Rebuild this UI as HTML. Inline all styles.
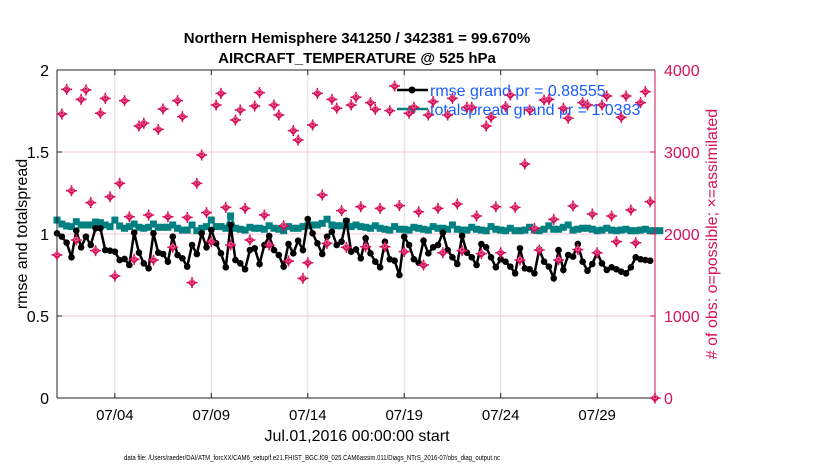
<!DOCTYPE html>
<html><head><meta charset="utf-8"><style>
html,body{margin:0;padding:0;background:#fff}
svg{display:block;font-family:"Liberation Sans",Arial,sans-serif}
</style></head><body>
<svg id="chart" width="830" height="470" viewBox="0 0 830 470">
<rect width="830" height="470" fill="#fff"/>
<g id="grid"></g>
<g id="series"></g>
<g id="axes"></g>
<text x="357" y="43" text-anchor="middle" font-size="15" font-weight="bold">Northern Hemisphere 341250 / 342381 = 99.670%</text>
<text x="357" y="63" text-anchor="middle" font-size="15" font-weight="bold">AIRCRAFT_TEMPERATURE @ 525 hPa</text>
<text transform="translate(27,234) rotate(-90)" text-anchor="middle" font-size="16">rmse and totalspread</text>
<text transform="translate(717,234) rotate(-90)" text-anchor="middle" font-size="16" fill="#d6105a"># of obs: o=possible; ×=assimilated</text>
<text x="357" y="441" text-anchor="middle" font-size="16">Jul.01,2016 00:00:00 start</text>
<text x="312" y="460" text-anchor="middle" font-size="7" textLength="376" lengthAdjust="spacingAndGlyphs">data file: /Users/raeder/DAI/ATM_forcXX/CAM6_setup/f.e21.FHIST_BGC.f09_025.CAM6assim.011/Diags_NTrS_2016-07/obs_diag_output.nc</text>
<g>
<line x1="397" y1="90" x2="428" y2="90" stroke="#000" stroke-width="2.5"/>
<circle cx="412" cy="90" r="3.5" fill="#000"/>
<text x="430" y="96" font-size="16" fill="#1a5cff">rmse grand pr = 0.88555</text>
<line x1="397" y1="109" x2="428" y2="109" stroke="#008080" stroke-width="2.5"/>
<rect x="408.5" y="105.5" width="7" height="7" fill="#008080"/>
<text x="430" y="115" font-size="16" fill="#1a5cff">totalspread grand pr = 1.0383</text>
</g>
<g id="obs"></g>
</svg>
<script>
const startDay = 1;
const stepDays = 0.25;
const xTickDays = [4, 9, 14, 19, 24, 29];
const xTickLabels = ["07/04", "07/09", "07/14", "07/19", "07/24", "07/29"];
const leftTicks = [0, 0.5, 1, 1.5, 2];
const leftTickLabels = ["0", "0.5", "1", "1.5", "2"];
const rightTicks = [0, 1000, 2000, 3000, 4000];
const rightTickLabels = ["0", "1000", "2000", "3000", "4000"];
const rmse = [
1.004,0.984,0.947,0.858,1.020,0.919,0.984,0.933,1.035,1.035,0.902,0.898,0.892,0.841,0.848,0.811,
1.008,0.886,0.821,0.791,1.004,0.886,0.878,0.831,0.984,0.872,0.852,0.801,0.933,0.878,1.004,0.919,
1.024,0.943,0.882,0.797,1.055,0.841,0.821,0.785,0.902,0.913,0.817,0.933,0.988,0.902,0.872,0.801,
0.939,0.882,0.959,0.902,1.091,1.004,0.943,0.878,0.984,1.014,0.933,0.953,1.081,0.892,
0.906,0.852,0.974,0.882,0.831,0.797,0.953,0.846,0.837,0.750,0.984,0.933,0.846,0.825,0.959,0.882,
0.919,0.933,1.008,0.902,0.858,0.817,0.988,0.886,0.858,0.811,0.939,0.919,0.858,0.797,
0.846,0.831,0.801,0.760,0.913,0.791,0.785,0.760,0.906,0.831,0.801,0.730,0.902,0.781,0.872,0.862,
0.939,0.831,0.776,0.817,0.886,0.821,0.781,0.797,0.785,0.770,0.760,0.797,0.858,0.846,0.841,0.837];
const spread = [
1.085,1.061,1.049,1.045,1.075,1.055,1.055,1.055,1.073,1.069,1.055,1.045,1.085,1.049,1.035,1.045,
1.061,1.041,1.035,1.041,1.061,1.041,1.041,1.041,1.055,1.035,1.024,1.024,1.055,1.020,1.035,1.045,
1.085,1.045,1.045,1.035,1.110,1.035,1.029,1.024,1.041,1.035,1.035,1.029,1.050,1.035,1.029,1.020,
1.045,1.035,1.035,1.045,1.050,1.055,1.055,1.065,1.090,1.055,1.050,1.050,1.075,1.045,
1.055,1.045,1.041,1.035,1.050,1.035,1.029,1.024,1.045,1.029,1.029,1.024,1.041,1.035,1.029,1.024,
1.045,1.035,1.035,1.029,1.055,1.029,1.024,1.024,1.041,1.029,1.024,1.020,1.045,1.029,1.024,1.020,
1.035,1.020,1.020,1.024,1.041,1.024,1.020,1.029,1.050,1.029,1.029,1.041,1.055,1.024,1.029,1.035,
1.035,1.029,1.020,1.024,1.035,1.024,1.020,1.024,1.029,1.020,1.020,1.024,1.029,1.020,1.020,1.020];
const assimilated = [
1744,3463,3764,2528,1927,3642,3756,2382,1797,3472,3654,2455,1488,2618,3626,2211,
1691,3317,3350,2232,1683,3276,3524,2211,1837,3626,3431,2203,1407,2618,2963,2260,
1907,3573,3715,2325,1866,3390,3512,2313,1927,3561,3724,2232,1866,3573,3451,2102,
1671,3260,3146,1459,1650,3329,3715,2476,1886,3642,3533,2285,1837,3573,
3667,2333,1845,3602,3520,2313,1845,3504,3805,2346,1785,3472,3545,2272,1622,3451,
3614,2313,1772,3451,3654,2366,1797,3545,3545,2220,1760,3317,3423,2333,
1772,3553,3695,2325,1683,2854,3512,2069,1805,3634,3642,2179,1683,3533,3411,2341,
1809,3602,3573,2244,1772,3573,3683,2220,1907,3423,3683,2293,1894,3602,3736,2394,0];
const possible = assimilated.slice();

const X0=57, X1=655, Y0=398, Y1=70;
const xScale = d => X0 + (d - 1) / 31 * (X1 - X0);
const yLeft = v => Y0 - v / 2 * (Y0 - Y1);
const yRight = v => Y0 - v / 4000 * (Y0 - Y1);
const NS="http://www.w3.org/2000/svg";
function mk(tag, attrs, parent){const e=document.createElementNS(NS,tag);for(const k in attrs)e.setAttribute(k,attrs[k]);parent.appendChild(e);return e;}
const grid=document.getElementById('grid'), series=document.getElementById('series'), axes=document.getElementById('axes'), obs=document.getElementById('obs');
const dayOf = i => startDay + i*stepDays;

xTickDays.forEach((d,i)=>{
  const x=xScale(d);
  const g=mk('line',{x1:x,y1:Y1,x2:x,y2:Y0,stroke:'#dcdcdc','stroke-width':1},grid);
  
  
  const t1=mk('line',{x1:x,y1:Y0,x2:x,y2:Y0-5,stroke:'#222','stroke-width':1},axes);
  
  
  const t2=mk('line',{x1:x,y1:Y1,x2:x,y2:Y1+5,stroke:'#222','stroke-width':1},axes);
  
  
  const lb=mk('text',{x:x,y:420,'text-anchor':'middle','font-size':15},axes);
  lb.textContent=xTickLabels[i];
  
  
});
leftTicks.forEach((v,i)=>{
  const y=yLeft(v);
  if(v>0&&v<2){
    const g=mk('line',{x1:X0,y1:y,x2:X1,y2:y,stroke:'#f6c8d8','stroke-width':1},grid);
    
    
  }
  const t=mk('line',{x1:X0,y1:y,x2:X0+5,y2:y,stroke:'#222'},axes);
  
  
  const lb=mk('text',{x:49,y:y+6,'text-anchor':'end','font-size':16},axes);
  lb.textContent=leftTickLabels[i];
  
  
});
rightTicks.forEach((v,i)=>{
  const y=yRight(v);
  const t=mk('line',{x1:X1-5,y1:y,x2:X1,y2:y,stroke:'#d6105a'},axes);
  
  
  const lb=mk('text',{x:664,y:y+6,'font-size':16,fill:'#d6105a'},axes);
  lb.textContent=rightTickLabels[i];
  
  
});
const fr1=mk('line',{x1:X0,y1:Y1,x2:X1,y2:Y1,stroke:'#222'},axes);


const fr2=mk('line',{x1:X0,y1:Y0,x2:X1,y2:Y0,stroke:'#222'},axes);


const fr3=mk('line',{x1:X0,y1:Y1,x2:X0,y2:Y0,stroke:'#222'},axes);


const fr4=mk('line',{x1:X1,y1:Y1,x2:X1,y2:Y0,stroke:'#d6105a'},axes);



// spread
const sp=mk('polyline',{points:spread.map((v,i)=>xScale(dayOf(i))+','+yLeft(v)).join(' '),fill:'none',stroke:'#008080','stroke-width':2.5},series);


spread.forEach((v,i)=>{
  const r=mk('rect',{x:xScale(dayOf(i))-3.5,y:yLeft(v)-3.5,width:7,height:7,fill:'#008080'},series);
  
  
});
// rmse
const rl=mk('polyline',{points:rmse.map((v,i)=>xScale(dayOf(i))+','+yLeft(v)).join(' '),fill:'none',stroke:'#000','stroke-width':2.5},series);


rmse.forEach((v,i)=>{
  const c=mk('circle',{cx:xScale(dayOf(i)),cy:yLeft(v),r:3.3,fill:'#000'},series);
  
  
});
// obs markers on top
assimilated.forEach((v,i)=>{
  const x=xScale(dayOf(i)), y=yRight(v);
  const g=mk('g',{},obs);
  
  
  mk('path',{d:`M${x-4.5} ${y}L${x} ${y-4.5}L${x+4.5} ${y}L${x} ${y+4.5}Z`,fill:'#d6105a'},g);
  mk('path',{d:`M${x-5.5} ${y}H${x+5.5}M${x} ${y-5.5}V${y+5.5}`,stroke:'#d6105a','stroke-width':1.5},g);
});
possible.forEach((v,i)=>{
  const c=mk('circle',{cx:xScale(dayOf(i)),cy:yRight(v)-1,r:1.8,fill:'none',stroke:'#e87ca6','stroke-width':0.8},obs);
  
  
});
</script>
</body></html>
